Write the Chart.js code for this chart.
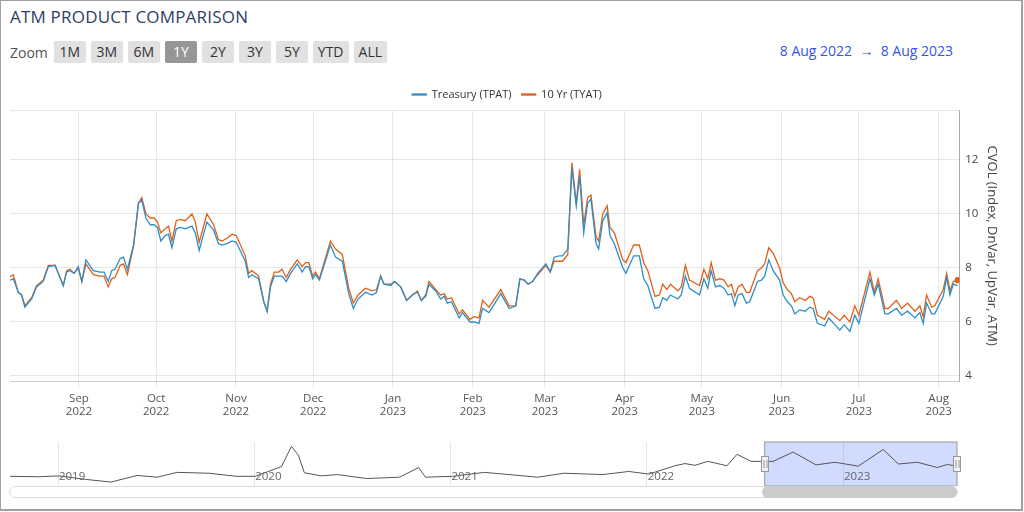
<!DOCTYPE html>
<html><head><meta charset="utf-8">
<script src="https://cdn.jsdelivr.net/npm/chart.js@4"></script>
<style>
html,body{margin:0;padding:0;background:#fff;}
body{width:1024px;height:512px;position:relative;overflow:hidden;font-family:"Open Sans",sans-serif;}
#frame{position:absolute;left:0;top:0;width:1020px;height:508px;border:1px solid #a0a0a0;border-right:2px solid #a0a0a0;border-bottom:2px solid #a0a0a0;}
#title{position:absolute;left:10px;top:5px;font-size:17px;color:#2f4063;letter-spacing:0.2px;}
#zoom{position:absolute;left:10px;top:41px;font-size:14px;color:#555;display:flex;align-items:center;}
#zoom span.l{margin-right:6px;}
.b{background:#e1e1e1;color:#333;border-radius:2px;height:22px;line-height:22px;padding:0 5px;margin-right:5px;font-size:14px;min-width:22px;text-align:center;}
.b.s{background:#969696;color:#fff;}
#range{position:absolute;right:71px;top:41px;font-size:14px;color:#3355ee;}
#main{position:absolute;left:0;top:79px;}
#nav{position:absolute;left:0;top:436px;}
#sb{position:absolute;left:9px;top:486px;width:947px;height:10px;border:1px solid #ddd;border-radius:6px;background:#fff;}
#thumb{position:absolute;left:762px;top:486px;width:195px;height:12px;border-radius:6px;background:#cbcbcb;}
</style></head><body>
<div id="frame"></div>
<div id="title">ATM PRODUCT COMPARISON</div>
<div id="zoom"><span class="l">Zoom</span><span class="b">1M</span><span class="b">3M</span><span class="b">6M</span><span class="b s">1Y</span><span class="b">2Y</span><span class="b">3Y</span><span class="b">5Y</span><span class="b">YTD</span><span class="b">ALL</span></div>
<div id="range">8 Aug 2022 &nbsp;→&nbsp; 8 Aug 2023</div>
<canvas id="main" width="1024" height="344" style="width:1024px;height:344px"></canvas>
<canvas id="nav" width="1024" height="50" style="width:1024px;height:50px"></canvas>
<div id="sb"></div><div id="thumb"></div>
<script>
// days since 8 Aug 2022
const days=[-2.8,-1.5,0.4,1.7,3.0,5.6,7.5,10.1,12.1,14.7,17.9,19.2,20.5,22.1,23.7,25.1,26.7,29.6,32.2,33.7,35.4,36.7,38.0,40.0,41.3,42.8,45.2,47.1,48.4,50.0,51.7,53.2,54.5,55.8,57.5,58.8,60.1,61.8,63.3,65.3,67.9,69.2,70.7,73.7,76.3,78.2,79.6,81.5,83.5,85.1,88.6,89.9,91.2,93.8,95.8,97.1,98.4,99.9,101.6,102.9,104.5,106.2,108.8,110.7,112.0,113.3,114.8,115.9,117.4,121.7,123.7,126.3,128.8,130.6,132.4,135.3,137.9,139.6,141.2,142.5,145.1,146.6,149.0,151.3,153.5,155.5,157.0,158.7,160.0,162.6,164.5,165.9,167.1,168.7,171.7,173.0,175.9,177.5,179.4,180.8,183.3,187.9,191.1,193.7,195.3,197.0,198.5,200.2,202.2,205.4,207.1,208.6,210.6,211.9,213.9,215.5,217.2,218.5,220.1,221.6,222.9,224.9,225.9,227.5,229.2,230.3,232.0,235.3,236.5,239.5,241.7,243.4,245.0,247.8,249.5,250.8,252.4,253.8,256.7,258.0,259.6,261.2,265.1,266.8,268.3,269.6,271.3,272.9,274.6,276.2,277.5,278.8,280.1,281.6,283.3,284.6,287.6,289.1,290.4,292.0,293.7,296.2,297.6,299.2,300.8,302.1,304.0,306.2,307.9,309.2,310.9,313.7,315.3,319.6,321.3,323.5,325.4,327.0,331.3,333.0,334.5,337.1,338.4,341.6,343.6,345.9,348.8,350.7,352.0,353.3,355.3,356.5,359.8,361.1,362.4,363.7,365.4];
const tenYr=[7.67,7.75,7.1,7.0,6.6,6.9,7.35,7.55,8.1,8.1,7.35,7.9,7.95,7.8,8.0,7.5,8.15,7.75,7.7,7.7,7.3,7.6,7.65,8.1,8.15,7.75,8.8,10.4,10.6,10.0,9.85,9.85,9.7,9.3,9.45,9.55,9.0,9.75,9.8,9.75,10.0,9.7,8.95,10.0,9.6,9.05,9.0,9.1,9.25,9.2,8.45,7.8,7.9,7.7,6.75,6.4,7.4,7.85,7.85,7.95,7.65,7.95,8.3,8.05,8.2,8.2,7.7,7.85,7.6,9.0,8.7,8.5,7.25,6.7,7.0,7.25,7.15,7.2,7.7,7.4,7.4,7.5,7.3,6.8,7.0,7.15,6.8,7.0,7.5,7.2,7.0,7.05,6.85,6.9,6.3,6.45,6.1,6.2,6.15,6.8,6.55,7.2,6.6,6.6,7.6,7.55,7.4,7.5,7.75,8.1,7.85,8.25,8.25,8.25,8.5,11.9,10.4,11.65,9.6,10.6,10.7,9.15,9.0,10.0,10.3,9.5,9.3,8.3,8.2,8.85,8.85,8.2,7.9,6.95,7.0,7.4,7.2,7.4,7.15,7.3,8.1,7.55,7.35,7.95,7.6,8.2,7.55,7.6,7.55,7.3,7.4,6.95,7.3,7.4,7.1,7.1,7.9,8.0,8.15,8.75,8.55,8.0,7.45,7.2,7.05,6.75,6.9,6.8,6.95,6.9,6.25,6.1,6.4,6.05,6.25,6.0,6.6,6.25,7.85,7.1,7.6,6.5,6.5,6.8,6.5,6.7,6.4,6.6,6.2,7.0,6.55,6.6,7.2,7.8,7.15,7.5,7.55];
const treasury=[7.55,7.6,7.1,7.0,6.55,6.85,7.3,7.5,8.05,8.1,7.35,7.85,7.9,7.8,8.05,7.5,8.3,7.9,7.85,7.85,7.5,7.9,7.95,8.35,8.4,7.95,8.85,10.4,10.5,9.85,9.6,9.6,9.5,9.0,9.2,9.25,8.75,9.45,9.5,9.45,9.55,9.3,8.65,9.7,9.4,8.9,8.85,8.9,9.0,8.95,8.25,7.65,7.75,7.6,6.75,6.4,7.3,7.7,7.7,7.7,7.5,7.8,8.15,7.85,8.05,8.05,7.6,7.75,7.55,8.85,8.4,8.25,7.05,6.5,6.85,7.1,7.0,7.1,7.7,7.4,7.35,7.5,7.3,6.8,7.0,7.1,6.8,6.95,7.4,7.15,6.85,6.95,6.7,6.75,6.15,6.35,6.0,6.0,5.95,6.5,6.35,7.05,6.5,6.6,7.6,7.55,7.4,7.5,7.8,8.15,7.85,8.4,8.45,8.45,8.7,11.7,10.3,11.4,9.3,10.4,10.55,8.9,8.7,9.75,10.05,9.2,8.9,8.0,7.8,8.45,8.45,7.6,7.35,6.5,6.55,6.9,6.8,7.0,6.85,7.0,7.7,7.25,7.0,7.6,7.25,7.9,7.3,7.35,7.25,7.0,7.05,6.6,7.0,7.05,6.7,6.75,7.5,7.55,7.7,8.3,7.9,7.55,7.0,6.75,6.6,6.3,6.45,6.4,6.55,6.5,5.95,5.85,6.15,5.7,5.9,5.65,6.25,5.95,7.6,7.0,7.4,6.3,6.3,6.5,6.25,6.4,6.15,6.35,5.95,6.7,6.3,6.3,6.95,7.65,7.0,7.4,7.35];
const monthDays=[24,54,85,115,146,177,205,236,266,297,327,358];
const monthLabels=[["Sep","2022"],["Oct","2022"],["Nov","2022"],["Dec","2022"],["Jan","2023"],["Feb","2023"],["Mar","2023"],["Apr","2023"],["May","2023"],["Jun","2023"],["Jul","2023"],["Aug","2023"]];
const yTicks=[4,6,8,10,12];
// navigator (overview since 2019)
const navYears=[2018.755,2018.9,2019.005,2019.14,2019.27,2019.403,2019.505,2019.607,2019.77,2019.908,2020.005,2020.138,2020.189,2020.224,2020.255,2020.342,2020.423,2020.571,2020.74,2020.837,2020.872,2021.01,2021.173,2021.444,2021.577,2021.776,2021.908,2022.01,2022.143,2022.194,2022.245,2022.311,2022.408,2022.459,2022.495,2022.531,2022.643,2022.745,2022.862,2022.959,2023.077,2023.204,2023.281,2023.378,2023.48,2023.531,2023.58];
const navValues=[5.2,5.1,5.3,4.5,3.9,5.4,5.0,6.1,5.9,5.2,5.2,7.4,12,10,6.0,5.3,5.6,4.7,5.0,7.2,5.0,5.2,6.1,5.0,5.9,5.6,6.3,5.7,7.6,8.1,7.7,8.6,7.6,10.2,9.4,8.6,8.6,10.7,7.8,8.4,7.5,11.3,8.0,8.4,7.2,7.9,7.5];
const navYearTicks=[2019,2020,2021,2022,2023];

const last=tenYr.length-1;
const BLUE='#2f8dc9', ORANGE='#e0601a';
new Chart(document.getElementById('main'),{
 type:'line',
 data:{datasets:[
  {label:'Treasury (TPAT)',data:days.map((d,i)=>({x:d,y:treasury[i]})),borderColor:BLUE,backgroundColor:BLUE,borderWidth:1.3,pointRadius:0,tension:0},
  {label:'10 Yr (TYAT)',data:days.map((d,i)=>({x:d,y:tenYr[i]})),borderColor:ORANGE,backgroundColor:ORANGE,borderWidth:1.3,pointRadius:c=>c.dataIndex===last?2.5:0,tension:0}
 ]},
 options:{responsive:false,animation:false,
  layout:{padding:{left:10,right:20,top:0,bottom:0}},
  plugins:{legend:{labels:{boxWidth:14,boxHeight:1,font:{family:'Open Sans',size:11},color:'#333',padding:10}},tooltip:{enabled:false}},
  scales:{
   x:{type:'linear',min:-2.8,max:366,
      afterBuildTicks:s=>{s.ticks=monthDays.map(v=>({value:v}));},
      ticks:{autoSkip:false,maxRotation:0,font:{family:'Open Sans',size:11.5},color:'#555',padding:4,
        callback:(v,i)=>monthLabels[i]},
      grid:{color:'#e6e6e6',drawTicks:true,tickLength:6},border:{color:'#ccc'}},
   y:{position:'right',min:3.8,max:13.85,
      afterBuildTicks:s=>{s.ticks=yTicks.concat([13.85]).map(v=>({value:v}));},
      ticks:{font:{family:'Open Sans',size:11.5},color:'#444',padding:6,callback:v=>yTicks.includes(v)?v:''},
      grid:{color:'#e6e6e6',drawTicks:false},border:{color:'#aaa',width:1},
      title:{display:true,text:'CVOL (Index, DnVar, UpVar, ATM)',font:{family:'Open Sans',size:13},color:'#444',padding:{top:4,bottom:0}}}
  }}
});
const sel={id:'sel',beforeDatasetsDraw(c){const x=c.scales.x,a=c.chartArea,g=c.ctx;
  const x1=x.getPixelForValue(2022.6),x2=x.getPixelForValue(2023.58);
  g.save();g.fillStyle='rgba(102,133,255,0.3)';g.fillRect(x1,a.top,x2-x1,a.bottom-a.top);
  g.strokeStyle='#999';g.lineWidth=1;g.strokeRect(x1,a.top,x2-x1,a.bottom-a.top);g.restore();},
 afterDatasetsDraw(c){const x=c.scales.x,a=c.chartArea,g=c.ctx;
  [2022.6,2023.58].forEach(v=>{const px=Math.round(x.getPixelForValue(v));const my=(a.top+a.bottom)/2;
   g.save();g.fillStyle='#f2f2f2';g.strokeStyle='#999';g.fillRect(px-4,my-8,8,16);g.strokeRect(px-4+0.5,my-8+0.5,7,15);
   g.beginPath();g.moveTo(px-1.5+0.5,my-4);g.lineTo(px-1.5+0.5,my+4);g.moveTo(px+1.5+0.5,my-4);g.lineTo(px+1.5+0.5,my+4);g.stroke();g.restore();});}};
new Chart(document.getElementById('nav'),{
 type:'line',
 data:{datasets:[{data:navYears.map((d,i)=>({x:d,y:navValues[i]})),borderColor:'#555',borderWidth:1,pointRadius:0}]},
 options:{responsive:false,animation:false,layout:{padding:{left:10,right:67,top:6,bottom:0}},
  plugins:{legend:{display:false},tooltip:{enabled:false}},
  scales:{x:{type:'linear',min:2018.755,max:2023.58,
     afterBuildTicks:s=>{s.ticks=navYearTicks.map(v=>({value:v}));},
     ticks:{padding:-16,labelOffset:14,z:1,font:{family:'Open Sans',size:11.5},color:'#666',callback:v=>String(v)},
     grid:{color:'#e6e6e6',drawTicks:false},border:{color:'#ccc'}},
   y:{display:false,min:3,max:13}}
 },plugins:[sel]
});
</script></body></html>
